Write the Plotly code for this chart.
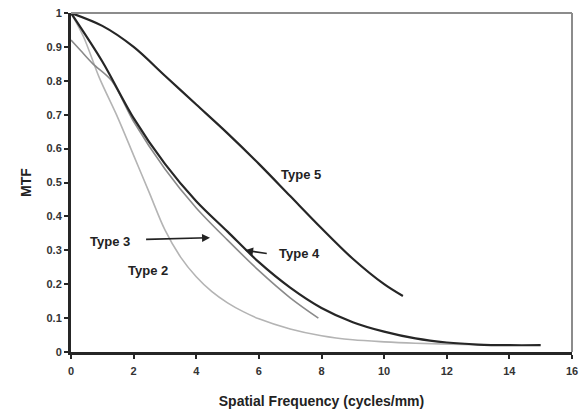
import plotly.graph_objects as go

# Spatial frequency (cycles/mm) and MTF values for each detector type
type5_freq = [0, 1, 2, 3, 4, 5, 6, 7, 8, 9, 10, 10.6]
type5_mtf = [1.0, 0.962, 0.9, 0.815, 0.73, 0.645, 0.555, 0.46, 0.365, 0.275, 0.2, 0.165]

type4_freq = [0, 1, 2, 3, 4, 5, 6, 7, 8, 9, 10, 11, 12, 13, 14, 15]
type4_mtf = [1.0, 0.857, 0.69, 0.555, 0.445, 0.355, 0.265, 0.19, 0.13, 0.088, 0.06, 0.04, 0.028, 0.022, 0.02, 0.02]

type3_freq = [0, 0.3, 0.7, 1.3, 2, 3, 4, 5, 6, 7, 7.9]
type3_mtf = [0.92, 0.89, 0.85, 0.8, 0.68, 0.54, 0.425, 0.33, 0.24, 0.16, 0.10]

type2_freq = [0, 0.4, 0.9, 1.5, 2, 2.5, 3, 3.5, 4, 4.5, 5, 5.5, 6, 7, 8, 9, 10, 11, 12.5, 13.5]
type2_mtf = [1.0, 0.93, 0.81, 0.69, 0.58, 0.47, 0.36, 0.28, 0.222, 0.178, 0.145, 0.119, 0.098,
             0.068, 0.048, 0.036, 0.03, 0.026, 0.022, 0.02]

x_ticks = [0, 2, 4, 6, 8, 10, 12, 14, 16]
y_ticks = [0, 0.1, 0.2, 0.3, 0.4, 0.5, 0.6, 0.7, 0.8, 0.9, 1]
y_tick_text = ["0", "0.1", "0.2", "0.3", "0.4", "0.5", "0.6", "0.7", "0.8", "0.9", "1"]

FONT = "Liberation Sans, Arial, sans-serif"

fig = go.Figure()

series = [
    ("Type 2", type2_freq, type2_mtf, "#b4b4b4", 1.6),
    ("Type 3", type3_freq, type3_mtf, "#8a8a8a", 1.6),
    ("Type 4", type4_freq, type4_mtf, "#262626", 2.2),
    ("Type 5", type5_freq, type5_mtf, "#262626", 2.2),
]
for name, xs, ys, color, width in series:
    fig.add_trace(go.Scatter(
        x=xs, y=ys, mode="lines", name=name,
        line=dict(color=color, width=width, shape="spline", smoothing=0.9),
        showlegend=False, hoverinfo="skip",
    ))

# Frame: dark left/bottom axes, grey top/right border
fig.add_shape(type="line", xref="paper", yref="paper", x0=0, x1=1, y0=1, y1=1,
              line=dict(color="#8c8c8c", width=2))
fig.add_shape(type="line", xref="paper", yref="paper", x0=1, x1=1, y0=0, y1=1,
              line=dict(color="#8c8c8c", width=2))

label_font = dict(family=FONT, size=13, color="#222222")

fig.add_annotation(x=7.35, y=0.525, text="<b>Type 5</b>", showarrow=False, font=label_font)
fig.add_annotation(x=2.45, y=0.24, text="<b>Type 2</b>", showarrow=False, font=label_font)
fig.add_annotation(x=1.25, y=0.325, text="<b>Type 3</b>", showarrow=False, font=label_font)
fig.add_annotation(x=7.3, y=0.29, text="<b>Type 4</b>", showarrow=False, font=label_font)

# Leader arrows
fig.add_annotation(x=4.44, y=0.337, ax=2.35, ay=0.332, xref="x", yref="y", axref="x", ayref="y",
                   text="", showarrow=True, arrowhead=2, arrowsize=1, arrowwidth=1.6,
                   arrowcolor="#222222", standoff=0, startstandoff=0)
fig.add_annotation(x=5.56, y=0.30, ax=6.3, ay=0.29, xref="x", yref="y", axref="x", ayref="y",
                   text="", showarrow=True, arrowhead=2, arrowsize=1, arrowwidth=1.6,
                   arrowcolor="#222222", standoff=0, startstandoff=0)

fig.update_layout(
    width=587, height=414,
    margin=dict(l=71, r=15, t=13, b=62, autoexpand=False),
    paper_bgcolor="white", plot_bgcolor="white",
    font=dict(family=FONT, size=11, color="#222222"),
)
fig.update_xaxes(
    range=[0, 16], tickvals=x_ticks, ticktext=[f"<b>{v}</b>" for v in x_ticks],
    showgrid=False, zeroline=False, automargin=False,
    showline=True, linecolor="#262626", linewidth=3,
    ticks="outside", ticklen=4, tickwidth=2, tickcolor="#262626",
    ticklabelstandoff=3,
    tickfont=dict(family=FONT, size=11, color="#333333"),
    title=dict(text="<b>Spatial Frequency (cycles/mm)</b>", font=dict(family=FONT, size=14, color="#222222"),
               standoff=20),
)
fig.update_yaxes(
    range=[0, 1], tickvals=y_ticks, ticktext=[f"<b>{t}</b>" for t in y_tick_text],
    showgrid=False, zeroline=False, automargin=False,
    showline=True, linecolor="#262626", linewidth=3,
    ticks="outside", ticklen=4, tickwidth=2, tickcolor="#262626",
    tickfont=dict(family=FONT, size=11, color="#333333"),
    title=dict(text="<b>MTF</b>", font=dict(family=FONT, size=14, color="#222222"), standoff=12),
)

fig.write_html("out.html")
